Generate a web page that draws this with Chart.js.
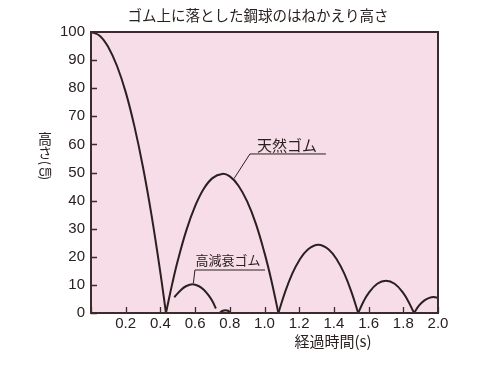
<!DOCTYPE html>
<html>
<head>
<meta charset="utf-8">
<script src="https://cdn.jsdelivr.net/npm/chart.js@4/dist/chart.umd.min.js"></script>
<style>
  html, body { margin: 0; padding: 0; background: #fff; }
  #wrap { width: 496px; height: 373px; }
</style>
</head>
<body>
<div id="wrap"><canvas id="chart" width="496" height="373"></canvas></div>
<script>
const ctx = document.getElementById("chart").getContext("2d");

// 天然ゴム (arcs between bounces)
const natural1 = [[0, 100], [0.05, 98.7], [0.1, 94.6], [0.15, 87.9], [0.2, 78.6], [0.25, 66.5], [0.3, 51.8], [0.35, 34.4], [0.4, 14.3], [0.432, 0]];
const natural2 = [[0.432, 0], [0.47, 10.9], [0.5, 18.6], [0.55, 29.5], [0.6, 38.0], [0.65, 44.2], [0.7, 48.0], [0.756, 49.5], [0.8, 48.6], [0.85, 45.3], [0.9, 39.7], [0.95, 31.8], [1.0, 21.4], [1.04, 11.5], [1.08, 0]];
const natural3 = [[1.08, 0], [1.12, 7.7], [1.16, 14.0], [1.2, 18.7], [1.25, 22.6], [1.31, 24.3], [1.37, 22.6], [1.42, 18.7], [1.46, 14.0], [1.5, 7.7], [1.54, 0]];
const natural4 = [[1.54, 0], [1.57, 4.0], [1.6, 7.1], [1.65, 10.4], [1.7, 11.5], [1.75, 10.4], [1.8, 7.1], [1.83, 4.0], [1.862, 0]];
const natural5 = [[1.862, 0], [1.89, 2.6], [1.92, 4.4], [1.95, 5.4], [1.975, 5.7], [2.0, 5.4]];

// 高減衰ゴム
const damped1 = [[0.48, 5.6], [0.52, 8.3], [0.55, 9.6], [0.585, 10.2], [0.62, 9.6], [0.65, 8.3], [0.68, 6.1], [0.7, 4.2], [0.72, 1.6]];
const damped2 = [[0.74, 0], [0.76, 0.8], [0.775, 1.0], [0.79, 0.8], [0.805, 0]];

const xTicks = [0, 0.2, 0.4, 0.6, 0.8, 1.0, 1.2, 1.4, 1.6, 1.8, 2.0];
const xTickLabels = ["", "0.2", "0.4", "0.6", "0.8", "1.0", "1.2", "1.4", "1.6", "1.8", "2.0"];
const yTicks = [0, 10, 20, 30, 40, 50, 60, 70, 80, 90, 100];
const yTickLabels = ["0", "10", "20", "30", "40", "50", "60", "70", "80", "90", "100"];

const ink = "#2b2020";
const frame = "#3d2b2b";
const jp = '"Noto Sans CJK JP", sans-serif';
const num = '"Liberation Sans", Arial, sans-serif';

const toPts = arr => arr.map(p => ({ x: p[0], y: p[1] }));
const arcs = [natural1, natural2, natural3, natural4, natural5, damped1, damped2];

// 引出し線とラベル (data units)
const labels = [
  { text: "天然ゴム", at: [0.957, 59.8], size: 15, line: [[0.824, 47.8], [0.916, 56.6], [1.354, 56.6]] },
  { text: "高減衰ゴム", at: [0.603, 18.8], size: 13, line: [[0.59, 10.6], [0.599, 15.3], [1.003, 15.3]] }
];

const decor = {
  id: "decor",
  beforeDraw(chart) {
    const a = chart.chartArea, c = chart.ctx;
    c.save();
    c.fillStyle = "#f6dde7";
    c.fillRect(a.left, a.top, a.right - a.left, a.bottom - a.top);
    c.restore();
  },
  afterDraw(chart) {
    const a = chart.chartArea, c = chart.ctx;
    const xs = chart.scales.x, ys = chart.scales.y;
    c.save();
    // 枠
    c.strokeStyle = frame;
    c.lineWidth = 2;
    c.strokeRect(a.left, a.top, a.right - a.left, a.bottom - a.top);
    // 内向きの目盛
    c.lineWidth = 1.3;
    c.beginPath();
    xTicks.forEach(v => {
      const px = Math.round(xs.getPixelForValue(v)) + 0.5;
      c.moveTo(px, a.bottom); c.lineTo(px, a.bottom - 6);
    });
    yTicks.forEach(v => {
      const py = Math.round(ys.getPixelForValue(v)) + 0.5;
      c.moveTo(a.left, py); c.lineTo(a.left + 6, py);
    });
    c.stroke();

    c.strokeStyle = ink;
    c.lineWidth = 1;
    c.fillStyle = ink;
    labels.forEach(l => {
      c.beginPath();
      l.line.forEach((p, i) => {
        const px = xs.getPixelForValue(p[0]), py = ys.getPixelForValue(p[1]);
        if (i === 0) c.moveTo(px, py); else c.lineTo(px, py);
      });
      c.stroke();
      c.font = l.size + "px " + jp;
      c.textAlign = "left";
      c.textBaseline = "middle";
      c.fillText(l.text, xs.getPixelForValue(l.at[0]), ys.getPixelForValue(l.at[1]));
    });

    // タイトル
    c.font = "14.5px " + jp;
    c.textAlign = "center";
    c.textBaseline = "middle";
    c.fillText("ゴム上に落とした鋼球のはねかえり高さ", 258, 15);

    // 軸タイトル
    c.font = "15px " + jp;
    c.fillText("経過時間(s)", 333, 341);

    // 縦書き 高さ（㎝）
    c.font = "14px " + jp;
    c.fillText("高", 45, 139);
    c.fillText("さ", 45, 153);
    c.font = "13px " + jp;
    c.fillText("㎝", 45, 170);
    [["(", 163], [")", 178]].forEach(t => {
      c.save();
      c.translate(45, t[1]);
      c.rotate(Math.PI / 2);
      c.fillText(t[0], 0, 0);
      c.restore();
    });
    c.restore();
  }
};

const datasets = arcs.map(arr => ({
  data: toPts(arr),
  borderColor: ink,
  borderWidth: 2,
  pointRadius: 0,
  tension: 0.4,
  fill: false
}));

const chart = new Chart(ctx, {
  type: "line",
  data: { datasets: datasets },
  options: {
    responsive: false,
    animation: false,
    layout: { padding: { top: 32, right: 58, left: 0, bottom: 0 } },
    plugins: { legend: { display: false }, tooltip: { enabled: false }, title: { display: false } },
    scales: {
      x: {
        type: "linear",
        min: 0, max: 2,
        afterFit(scale) { scale.height = 60; },
        afterBuildTicks(scale) { scale.ticks = xTicks.map(v => ({ value: v })); },
        grid: { display: true, drawOnChartArea: false, drawTicks: false },
        border: { display: false },
        ticks: {
          padding: 2,
          color: ink,
          font: { family: num, size: 15 },
          maxRotation: 0,
          autoSkip: false,
          callback: (v, i) => xTickLabels[i]
        }
      },
      y: {
        type: "linear",
        min: 0, max: 100,
        afterFit(scale) { scale.width = 91; },
        afterBuildTicks(scale) { scale.ticks = yTicks.map(v => ({ value: v })); },
        grid: { display: true, drawOnChartArea: false, drawTicks: false },
        border: { display: false },
        ticks: {
          padding: 6,
          color: ink,
          font: { family: num, size: 15 },
          autoSkip: false,
          callback: (v, i) => yTickLabels[i]
        }
      }
    }
  },
  plugins: [decor]
});
</script>
</body>
</html>
